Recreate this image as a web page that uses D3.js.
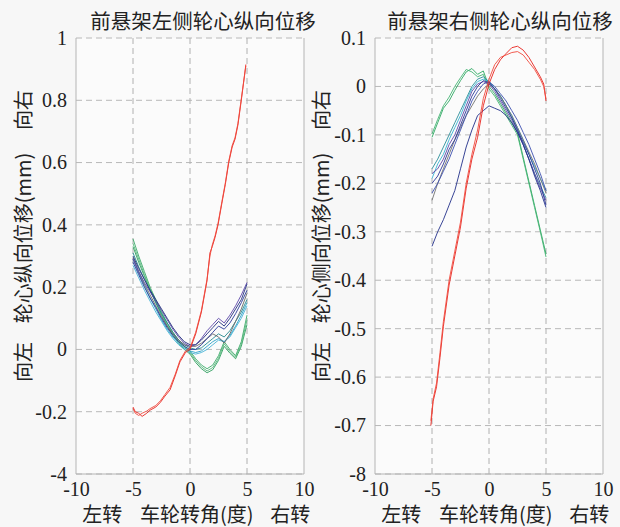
<!DOCTYPE html>
<html>
<head>
<meta charset="utf-8">
<script src="https://d3js.org/d3.v7.min.js"></script>
<style>
  body { margin: 0; background: #f7f7f7; }
  svg text.num { font-family: "Liberation Serif", "DejaVu Serif", "Times New Roman", serif !important; }
</style>
</head>
<body>
<script>
'use strict';

// shared steering angle grid (deg)
var angles = [-5,-4.5,-4,-3.5,-3,-2.5,-2,-1.5,-1,-0.5,0,0.5,1,1.5,2,2.5,3,3.5,4,4.5,5];
var xTicks = [-10, -5, 0, 5, 10];

// left wheel, longitudinal
var leftYTicks = [1, 0.8, 0.6, 0.4, 0.2, 0, -0.2, -0.4];
var leftYLabels = ["1", "0.8", "0.6", "0.4", "0.2", "0", "-0.2", "-4"];
var leftGreen1 = [0.355,0.3,0.25,0.2,0.16,0.12,0.085,0.055,0.03,0.01,-0.005,-0.03,-0.05,-0.062,-0.05,-0.02,0.025,0.0,-0.02,0.025,0.11];
var leftGreen2 = [0.33,0.28,0.235,0.19,0.15,0.11,0.075,0.045,0.02,0.0,-0.015,-0.042,-0.062,-0.075,-0.065,-0.035,0.01,-0.012,-0.03,0.01,0.08];
var leftGreen3 = [0.34,0.29,0.24,0.195,0.155,0.115,0.08,0.05,0.025,0.005,-0.01,-0.036,-0.056,-0.069,-0.058,-0.028,0.018,-0.006,-0.025,0.017,0.095];
var leftTeal = [0.31,0.265,0.225,0.19,0.15,0.115,0.085,0.055,0.03,0.015,0.005,0.0,0.005,0.02,0.035,0.05,0.04,0.06,0.09,0.12,0.16];
var leftNavy = [0.3,0.26,0.225,0.19,0.16,0.13,0.1,0.07,0.045,0.025,0.015,0.015,0.03,0.05,0.07,0.09,0.075,0.1,0.13,0.16,0.21];
var leftPurple = [0.29,0.25,0.215,0.185,0.155,0.125,0.095,0.065,0.04,0.02,0.01,0.015,0.035,0.06,0.08,0.1,0.085,0.11,0.14,0.175,0.215];
var leftBlue = [0.28,0.24,0.2,0.165,0.135,0.1,0.07,0.045,0.025,0.01,0.0,0.0,0.015,0.035,0.055,0.075,0.065,0.085,0.115,0.15,0.19];
var leftCyan = [0.29,0.245,0.205,0.165,0.13,0.095,0.065,0.04,0.02,0.005,-0.005,-0.01,-0.005,0.01,0.025,0.035,0.025,0.045,0.075,0.11,0.15];
var leftGray = [0.295,0.25,0.21,0.175,0.14,0.105,0.075,0.05,0.03,0.015,0.01,0.01,0.02,0.035,0.05,0.04,0.02,0.05,0.09,0.13,0.18];
var leftLightBlue = [0.27,0.23,0.19,0.155,0.12,0.09,0.06,0.035,0.015,0.0,-0.01,-0.015,-0.01,0.0,0.015,0.03,0.025,0.04,0.07,0.1,0.14];
var leftRedX = [-5,-4.8,-4.5,-4.2,-3.8,-3.5,-3,-2.6,-2.2,-1.75,-1.3,-0.88,-0.4,0,0.5,1,1.49,1.75,1.95,2.2,2.46,2.8,3.1,3.4,3.7,3.95,4.2,4.5,4.9];
var leftRed1 = [-0.185,-0.2,-0.205,-0.215,-0.205,-0.195,-0.185,-0.17,-0.15,-0.13,-0.085,-0.04,-0.01,0.0,0.05,0.12,0.22,0.31,0.33,0.36,0.4,0.47,0.53,0.6,0.65,0.675,0.72,0.8,0.915];
var leftRed2 = [-0.19,-0.205,-0.212,-0.205,-0.198,-0.19,-0.18,-0.165,-0.145,-0.122,-0.08,-0.035,-0.005,0.005,0.055,0.125,0.225,0.3,0.335,0.365,0.405,0.475,0.535,0.605,0.655,0.68,0.725,0.805,0.91];

// right wheel, lateral
var rightYTicks = [0.1, 0, -0.1, -0.2, -0.3, -0.4, -0.5, -0.6, -0.7, -0.8];
var rightYLabels = ["0.1", "0", "-0.1", "-0.2", "-0.3", "-0.4", "-0.5", "-0.6", "-0.7", "-8"];
var rightGreen1 = [-0.105,-0.075,-0.045,-0.03,-0.008,0.012,0.03,0.037,0.025,0.032,0.0,-0.015,-0.035,-0.055,-0.075,-0.096,-0.146,-0.196,-0.246,-0.296,-0.346];
var rightGreen2 = [-0.098,-0.068,-0.04,-0.022,0.0,0.018,0.035,0.03,0.02,0.025,-0.005,-0.02,-0.04,-0.06,-0.08,-0.1,-0.15,-0.2,-0.25,-0.3,-0.352];
var rightCyan = [-0.19,-0.16,-0.14,-0.11,-0.085,-0.06,-0.03,-0.005,0.01,0.015,0.01,-0.005,-0.02,-0.04,-0.06,-0.085,-0.11,-0.14,-0.165,-0.19,-0.215];
var rightPurple = [-0.18,-0.17,-0.15,-0.12,-0.1,-0.07,-0.04,-0.01,0.005,0.01,0.005,-0.01,-0.03,-0.05,-0.07,-0.095,-0.12,-0.15,-0.18,-0.21,-0.235];
var rightBlue = [-0.2,-0.185,-0.16,-0.13,-0.11,-0.08,-0.05,-0.02,0.0,0.012,0.008,-0.005,-0.025,-0.045,-0.065,-0.09,-0.115,-0.14,-0.17,-0.2,-0.245];
var rightGray = [-0.235,-0.2,-0.17,-0.14,-0.11,-0.085,-0.06,-0.04,-0.02,-0.005,0.005,-0.005,-0.02,-0.04,-0.06,-0.085,-0.11,-0.135,-0.16,-0.19,-0.22];
var rightNavy = [-0.33,-0.3,-0.275,-0.245,-0.215,-0.17,-0.125,-0.09,-0.06,-0.05,-0.04,-0.045,-0.05,-0.06,-0.075,-0.095,-0.12,-0.15,-0.185,-0.215,-0.25];
var rightTeal = [-0.17,-0.15,-0.125,-0.1,-0.075,-0.05,-0.025,0.0,0.015,0.02,0.01,-0.005,-0.02,-0.04,-0.065,-0.09,-0.12,-0.15,-0.18,-0.205,-0.23];
var rightBlue2 = [-0.22,-0.2,-0.175,-0.15,-0.12,-0.09,-0.06,-0.03,-0.01,0.005,0.01,0.0,-0.015,-0.03,-0.05,-0.07,-0.095,-0.12,-0.15,-0.18,-0.215];
var rightRedX = [-5.1,-4.9,-4.6,-4.3,-4,-3.5,-3,-2.5,-2,-1.5,-1,-0.5,0,0.5,1,1.5,2,2.5,3,3.5,4,4.5,4.8,5];
var rightRed1 = [-0.7,-0.65,-0.62,-0.56,-0.495,-0.41,-0.35,-0.29,-0.21,-0.15,-0.105,-0.04,0.005,0.035,0.055,0.068,0.08,0.083,0.075,0.06,0.04,0.02,0.005,-0.03];
var rightRed2 = [-0.69,-0.645,-0.612,-0.55,-0.485,-0.4,-0.34,-0.28,-0.2,-0.14,-0.09,-0.025,0.015,0.045,0.06,0.065,0.07,0.072,0.065,0.05,0.035,0.015,0.0,-0.025];

var W = 620, H = 527;
var cjkFont = '"Noto Sans CJK SC", sans-serif';

var svg = d3.select("body").append("svg").attr("width", W).attr("height", H);

function panel(opt) {
    var x = d3.scaleLinear().domain([-10, 10]).range([opt.left, opt.left + 228]);
    var y = d3.scaleLinear().domain(opt.yDomain).range([38, 474]);

    var g = svg.append("g");
    g.append("rect").attr("x", x(-10)).attr("y", 38).attr("width", 228).attr("height", 436)
        .attr("fill", "#fbfbfb");

    // dashed grid
    g.selectAll(".hg").data(opt.yTicks).enter().append("line")
        .attr("x1", x(-10)).attr("x2", x(10))
        .attr("y1", function(d) { return y(d); }).attr("y2", function(d) { return y(d); })
        .attr("stroke", "#b8b8b8").attr("stroke-dasharray", "6,4").attr("stroke-width", 1);
    g.selectAll(".vg").data([-5, 0, 5]).enter().append("line")
        .attr("x1", function(d) { return x(d); }).attr("x2", function(d) { return x(d); })
        .attr("y1", 38).attr("y2", 474)
        .attr("stroke", "#b0b0b0").attr("stroke-dasharray", "6,4").attr("stroke-width", 1);

    // frame (left, right, bottom solid)
    g.append("path")
        .attr("d", "M" + x(-10) + ",38V474H" + x(10) + "V38")
        .attr("fill", "none").attr("stroke", "#b5b5b5").attr("stroke-width", 1);

    var line = d3.line()
        .x(function(d) { return x(d[0]); })
        .y(function(d) { return y(d[1]); });

    opt.series.forEach(function(s) {
        g.append("path")
            .datum(d3.zip(s.xs, s.ys))
            .attr("d", line)
            .attr("fill", "none")
            .attr("stroke", s.color)
            .attr("stroke-width", 0.9);
    });

    // axes
    var yAxis = g.append("g")
        .attr("transform", "translate(" + (x(-10) - 6) + ",0)")
        .call(d3.axisLeft(y).tickValues(opt.yTicks).tickSize(0)
            .tickFormat(function(d, i) { return opt.yLabels[i]; }));
    yAxis.attr("font-family", null).attr("font-size", null);
    yAxis.select(".domain").remove();
    yAxis.selectAll("text").attr("class", "num").style("font-size", "20px").attr("fill", "#222");

    var xAxis = g.append("g")
        .attr("transform", "translate(0,474)")
        .call(d3.axisBottom(x).tickValues(xTicks).tickSize(0).tickPadding(8)
            .tickFormat(function(d) { return d; }));
    xAxis.attr("font-family", null).attr("font-size", null);
    xAxis.select(".domain").remove();
    xAxis.selectAll("text").attr("class", "num").style("font-size", "20px").attr("fill", "#222");

    // title
    g.append("text")
        .attr("x", opt.titleX).attr("y", 29)
        .attr("text-anchor", "middle")
        .style("font-family", cjkFont).style("font-size", "20.5px").attr("fill", "#222")
        .text(opt.title);

    // x label
    var xl = [["左转", x(-7.7)], ["车轮转角(度)", x(0.6)], ["右转", x(8.8)]];
    xl.forEach(function(p) {
        g.append("text")
            .attr("x", p[1]).attr("y", 522)
            .attr("text-anchor", "middle")
            .style("font-family", cjkFont).style("font-size", "20px").attr("fill", "#222")
            .text(p[0]);
    });

    // y label (rotated)
    var yl = [["向右", 110], [opt.yTitle, 238], ["向左", 362]];
    yl.forEach(function(p) {
        g.append("text")
            .attr("transform", "translate(" + opt.yLabelX + "," + p[1] + ") rotate(-90)")
            .attr("text-anchor", "middle").attr("dy", "0.35em")
            .style("font-family", cjkFont).style("font-size", "20px").attr("fill", "#222")
            .text(p[0]);
    });
}

panel({
    left: 76,
    yDomain: [1, -0.4],
    yTicks: leftYTicks,
    yLabels: leftYLabels,
    title: "前悬架左侧轮心纵向位移",
    titleX: 203,
    yTitle: "轮心纵向位移(mm)",
    yLabelX: 24,
    series: [
        { xs: angles, ys: leftGreen1, color: "#3daa6a" },
        { xs: angles, ys: leftGreen2, color: "#2e9e5e" },
        { xs: angles, ys: leftGreen3, color: "#55b87c" },
        { xs: angles, ys: leftLightBlue, color: "#47b3d6" },
        { xs: angles, ys: leftCyan, color: "#2aa3c8" },
        { xs: angles, ys: leftTeal, color: "#268a8e" },
        { xs: angles, ys: leftGray, color: "#666666" },
        { xs: angles, ys: leftBlue, color: "#2a3a9a" },
        { xs: angles, ys: leftPurple, color: "#5b45a8" },
        { xs: angles, ys: leftNavy, color: "#23307e" },
        { xs: leftRedX, ys: leftRed1, color: "#e8231d" },
        { xs: leftRedX, ys: leftRed2, color: "#f04a3c" }
    ]
});

panel({
    left: 375,
    yDomain: [0.1, -0.8],
    yTicks: rightYTicks,
    yLabels: rightYLabels,
    title: "前悬架右侧轮心纵向位移",
    titleX: 500,
    yTitle: "轮心侧向位移(mm)",
    yLabelX: 322,
    series: [
        { xs: angles, ys: rightGreen1, color: "#2ea862" },
        { xs: angles, ys: rightGreen2, color: "#45b474" },
        { xs: angles, ys: rightCyan, color: "#38b2d4" },
        { xs: angles, ys: rightTeal, color: "#2a8f9a" },
        { xs: angles, ys: rightGray, color: "#707070" },
        { xs: angles, ys: rightBlue2, color: "#3c4fb0" },
        { xs: angles, ys: rightPurple, color: "#6048a8" },
        { xs: angles, ys: rightBlue, color: "#2b3596" },
        { xs: angles, ys: rightNavy, color: "#22308a" },
        { xs: rightRedX, ys: rightRed1, color: "#e8231d" },
        { xs: rightRedX, ys: rightRed2, color: "#f04a3c" }
    ]
});
</script>
</body>
</html>
